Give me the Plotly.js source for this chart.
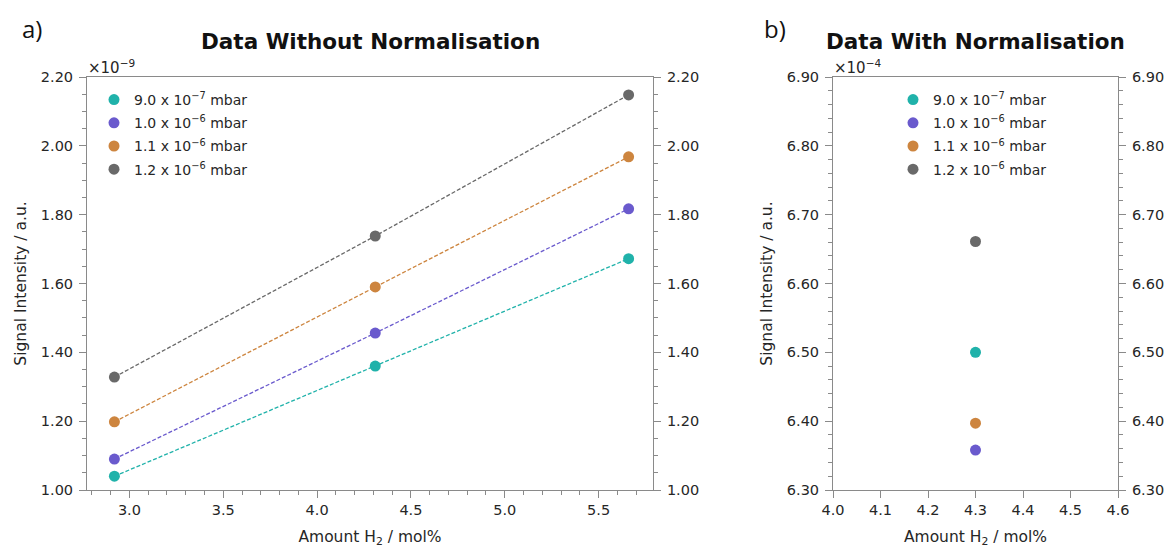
<!DOCTYPE html>
<html><head><meta charset="utf-8">
<script src="https://cdn.plot.ly/plotly-3.0.1.min.js"></script>
<style>html,body{margin:0;padding:0;background:#fff}#chart{width:1171px;height:548px}</style>
</head><body><div id="chart"></div>
<script>
// ---- data ----
const seriesNames = ["9.0 x 10<sup>−7</sup> mbar","1.0 x 10<sup>−6</sup> mbar","1.1 x 10<sup>−6</sup> mbar","1.2 x 10<sup>−6</sup> mbar"];
const seriesColors = ["#20b2aa","#6a5acd","#cd853f","#696969"];
// Panel a: amount H2 (mol%) vs signal intensity (x 1e-9 a.u.)
const amountA = [2.92, 4.31, 5.66];
const signalA_p9 = [1.04, 1.36, 1.672];
const signalA_p10 = [1.09, 1.456, 1.817];
const signalA_p11 = [1.198, 1.59, 1.968];
const signalA_p12 = [1.328, 1.738, 2.148];
// Panel b: normalised signal (x 1e-4 a.u.)
const amountB = [4.3];
const signalB_p9 = [6.50];
const signalB_p10 = [6.358];
const signalB_p11 = [6.397];
const signalB_p12 = [6.661];
// axis ranges
const rangeAx = [2.774, 5.79], rangeAy = [1.0, 2.2];
const rangeBx = [4.0, 4.6], rangeBy = [6.30, 6.90];

const seriesA = [signalA_p9, signalA_p10, signalA_p11, signalA_p12];
const seriesB = [signalB_p9, signalB_p10, signalB_p11, signalB_p12];

const W = 1171, H = 548;
const px = v => v / W, py = v => 1 - v / H;
const font = "DejaVu Sans, sans-serif";
const axCol = "#8a8a8a", txtCol = "#262626";

const traces = [];
seriesA.forEach((ys, i) => {
  traces.push({x: amountA, y: ys, xaxis: 'x', yaxis: 'y', mode: 'lines', showlegend: false,
    line: {color: seriesColors[i], width: 1.3, dash: '4px,2px'}, hoverinfo: 'skip'});
});
seriesA.forEach((ys, i) => {
  traces.push({x: amountA, y: ys, xaxis: 'x', yaxis: 'y', mode: 'markers', name: seriesNames[i],
    legend: 'legend', legendgroup: 'a' + i,
    marker: {color: seriesColors[i], size: 11}});
});
// helper for right axes
traces.push({x: amountA, y: signalA_p9, xaxis: 'x', yaxis: 'y2', mode: 'markers', showlegend: false,
  marker: {opacity: 0}, hoverinfo: 'skip'});
seriesB.forEach((ys, i) => {
  traces.push({x: amountB, y: ys, xaxis: 'x3', yaxis: 'y3', mode: 'markers', name: seriesNames[i],
    legend: 'legend2', legendgroup: 'b' + i,
    marker: {color: seriesColors[i], size: 11}});
});
traces.push({x: amountB, y: signalB_p9, xaxis: 'x3', yaxis: 'y4', mode: 'markers', showlegend: false,
  marker: {opacity: 0}, hoverinfo: 'skip'});

const tickFont = {family: font, size: 14.5, color: txtCol};
const titleFont = {family: font, size: 15.5, color: txtCol};
function xAx(domain, range, dtick, minor, anchor) {
  const a = {domain, range, dtick, tick0: 0, tickformat: '.1f', anchor,
    showline: true, linecolor: axCol, linewidth: 1, mirror: true,
    ticks: 'outside', ticklen: 7, tickcolor: axCol, tickwidth: 1,
    showgrid: false, zeroline: false, tickfont: tickFont,
    title: {text: 'Amount H<sub>2</sub> / mol%', font: titleFont, standoff: 14}};
  if (minor) a.minor = {dtick: minor, ticks: 'outside', ticklen: 4, tickcolor: axCol, showgrid: false};
  return a;
}
function yAx(domain, range, dtick, minor, anchor, side, overlay, title) {
  const a = {domain, range, dtick, tick0: 0, tickformat: '.2f', anchor, side,
    showline: true, linecolor: axCol, linewidth: 1,
    ticks: 'outside', ticklen: 7, tickcolor: axCol, tickwidth: 1,
    showgrid: false, zeroline: false, tickfont: tickFont, ticklabelstandoff: 3,
    minor: {dtick: minor, ticks: 'outside', ticklen: 4, tickcolor: axCol, showgrid: false}};
  if (overlay) a.overlaying = overlay;
  if (title) a.title = {text: title, font: titleFont, standoff: 10};
  return a;
}
const yDom = [py(490), py(77)];
const legFont = {family: font, size: 14, color: txtCol};
const layout = {
  width: W, height: H, margin: {l: 0, r: 0, t: 0, b: 0},
  paper_bgcolor: '#fff', plot_bgcolor: '#fff',
  font: {family: font, color: txtCol},
  xaxis: xAx([px(87), px(653)], rangeAx, 0.5, 0.1, 'y'),
  yaxis: yAx(yDom, rangeAy, 0.2, 0.05, 'x', 'left', null, 'Signal Intensity / a.u.'),
  yaxis2: yAx(yDom, rangeAy, 0.2, 0.05, 'x', 'right', 'y', null),
  xaxis3: xAx([px(833), px(1118)], rangeBx, 0.1, null, 'y3'),
  yaxis3: yAx(yDom, rangeBy, 0.1, 0.02, 'x3', 'left', null, 'Signal Intensity / a.u.'),
  yaxis4: yAx(yDom, rangeBy, 0.1, 0.02, 'x3', 'right', 'y3', null),
  legend: {x: px(94), y: py(84), xanchor: 'left', yanchor: 'top', bgcolor: 'rgba(0,0,0,0)',
    font: legFont, traceorder: 'grouped', tracegroupgap: 2},
  legend2: {x: px(893), y: py(84), xanchor: 'left', yanchor: 'top', bgcolor: 'rgba(0,0,0,0)',
    font: legFont, traceorder: 'grouped', tracegroupgap: 2},
  annotations: [
    {text: 'a)', x: px(20), y: py(28), xref: 'paper', yref: 'paper', xanchor: 'left', yanchor: 'middle',
      showarrow: false, font: {family: 'Open Sans, sans-serif', size: 24, color: '#111'}},
    {text: 'b)', x: px(762), y: py(28), xref: 'paper', yref: 'paper', xanchor: 'left', yanchor: 'middle',
      showarrow: false, font: {family: 'Open Sans, sans-serif', size: 24, color: '#111'}},
    {text: '<b>Data Without Normalisation</b>', x: px(370), y: py(42), xref: 'paper', yref: 'paper',
      xanchor: 'center', yanchor: 'middle', showarrow: false, font: {family: font, size: 21.5, color: '#111'}},
    {text: '<b>Data With Normalisation</b>', x: px(975), y: py(42), xref: 'paper', yref: 'paper',
      xanchor: 'center', yanchor: 'middle', showarrow: false, font: {family: font, size: 21.5, color: '#111'}},
    {text: '×10<sup>−9</sup>', x: px(86), y: py(79), xref: 'paper', yref: 'paper', xanchor: 'left', yanchor: 'bottom',
      showarrow: false, font: {family: font, size: 15, color: txtCol}},
    {text: '×10<sup>−4</sup>', x: px(832), y: py(79), xref: 'paper', yref: 'paper', xanchor: 'left', yanchor: 'bottom',
      showarrow: false, font: {family: font, size: 15, color: txtCol}}
  ]
};
Plotly.newPlot('chart', traces, layout, {displayModeBar: false, staticPlot: true});
</script></body></html>
